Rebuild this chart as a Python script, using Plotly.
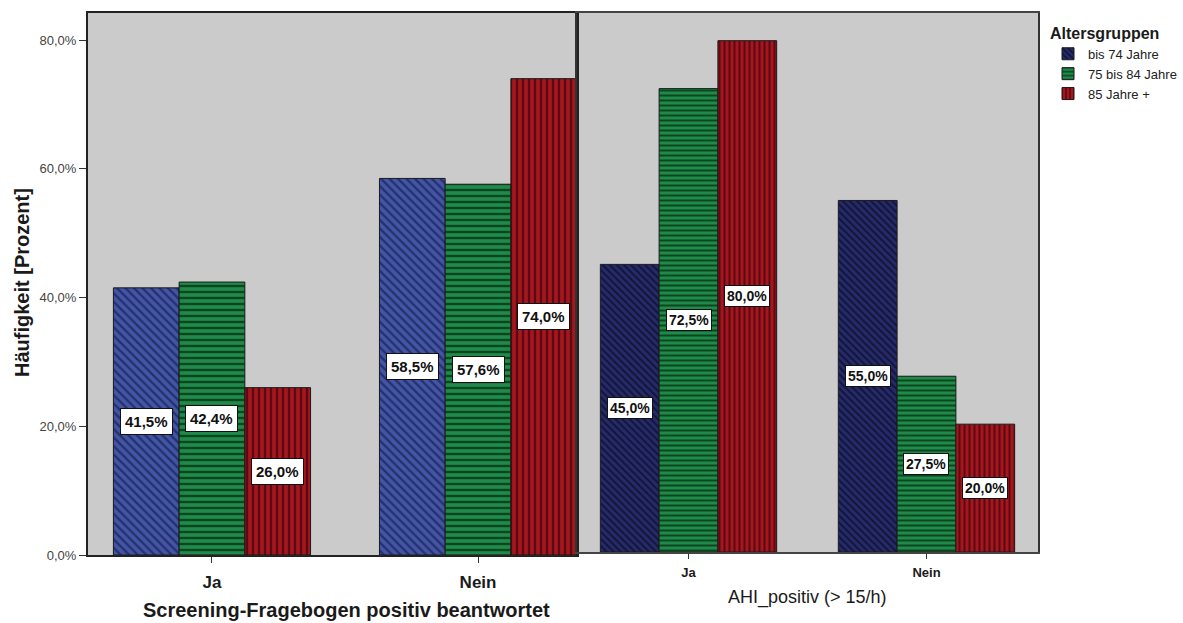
import plotly.graph_objects as go

# Data
age_groups = ["bis 74 Jahre", "75 bis 84 Jahre", "85 Jahre +"]
answers = ["Ja", "Nein"]

# Screening questionnaire answered positively (%), per age group: [Ja, Nein]
screening_pct = {
    "bis 74 Jahre": [41.5, 58.5],
    "75 bis 84 Jahre": [42.4, 57.6],
    "85 Jahre +": [26.0, 74.0],
}
# AHI positive (> 15/h) (%), per age group: [Ja, Nein]
ahi_pct = {
    "bis 74 Jahre": [45.0, 55.0],
    "75 bis 84 Jahre": [72.5, 27.5],
    "85 Jahre +": [80.0, 20.0],
}

y_ticks = [0, 20, 40, 60, 80]
y_tick_labels = ["0,0%", "20,0%", "40,0%", "60,0%", "80,0%"]

W, H = 1183, 623

# Fill styles per age group
shapes_pattern = ["\\", "-", "|"]
left_bg = ["#4356a6", "#1e8c48", "#a6161f"]
left_fg = ["#26306e", "#0d4522", "#5a0a10"]
right_bg = ["#262a68", "#1e8c48", "#a6161f"]
right_fg = ["#11143a", "#0d4522", "#5a0a10"]

FONT = "Liberation Sans, Arial, sans-serif"


def px_x(x):
    return x / W


def px_y(y):
    return 1 - y / H


def pct_label(v):
    return "<b>" + f"{v:.1f}".replace(".", ",") + "%</b>"


fig = go.Figure()

bar_w = 0.247
offsets = [-bar_w, 0.0, bar_w]
positions = list(range(len(answers)))

annotations = []

for i, grp in enumerate(age_groups):
    xs = [p + offsets[i] for p in positions]
    fig.add_trace(go.Bar(
        x=xs, y=screening_pct[grp], width=bar_w, name=grp,
        xaxis="x", yaxis="y", showlegend=False,
        marker=dict(
            color=left_bg[i],
            line=dict(color="#1a1a1a", width=1),
            pattern=dict(shape=shapes_pattern[i], fillmode="replace",
                         bgcolor=left_bg[i], fgcolor=left_fg[i],
                         size=6, solidity=0.4),
        ),
        hoverinfo="skip",
    ))
    for x, v in zip(xs, screening_pct[grp]):
        annotations.append(dict(
            x=x, y=v / 2, xref="x", yref="y",
            xanchor="center", yanchor="middle",
            text=pct_label(v),
            showarrow=False, bgcolor="white", bordercolor="#111",
            borderwidth=1, borderpad=4,
            font=dict(family=FONT, size=15, color="#111"),
        ))

for i, grp in enumerate(age_groups):
    xs = [p + offsets[i] for p in positions]
    fig.add_trace(go.Bar(
        x=xs, y=ahi_pct[grp], width=bar_w, name=grp,
        xaxis="x2", yaxis="y2", showlegend=True,
        marker=dict(
            color=right_bg[i],
            line=dict(color="#1a1a1a", width=1),
            pattern=dict(shape=shapes_pattern[i], fillmode="replace",
                         bgcolor=right_bg[i], fgcolor=right_fg[i],
                         size=5, solidity=0.4),
        ),
        hoverinfo="skip",
    ))
    for x, v in zip(xs, ahi_pct[grp]):
        annotations.append(dict(
            x=x, y=v / 2, xref="x2", yref="y2",
            xanchor="center", yanchor="middle",
            text=pct_label(v),
            showarrow=False, bgcolor="white", bordercolor="#111",
            borderwidth=1, borderpad=2,
            font=dict(family="Liberation Sans Narrow, Arial Narrow, " + FONT,
                      size=14, color="#111"),
        ))

# Axis titles
annotations += [
    dict(x=px_x(22), y=px_y(283), xref="paper", yref="paper",
         xanchor="center", yanchor="middle",
         text="<b>Häufigkeit [Prozent]</b>", textangle=-90, showarrow=False,
         font=dict(family=FONT, size=20, color="#1a1a1a")),
    dict(x=px_x(346), y=px_y(610), xref="paper", yref="paper",
         xanchor="center", yanchor="middle",
         text="<b>Screening-Fragebogen positiv beantwortet</b>", showarrow=False,
         font=dict(family=FONT, size=20, color="#1a1a1a")),
    dict(x=px_x(807), y=px_y(597), xref="paper", yref="paper",
         xanchor="center", yanchor="middle",
         text="AHI_positiv (> 15/h)", showarrow=False,
         font=dict(family=FONT, size=18, color="#1a1a1a")),
]

tick_text = ["<b>" + a + "</b>" for a in answers]

fig.update_layout(
    width=W, height=H,
    autosize=False,
    margin=dict(l=0, r=0, t=0, b=0, pad=0),
    paper_bgcolor="white",
    plot_bgcolor="#cbcbcb",
    barmode="overlay",
    font=dict(family=FONT, color="#222"),
    xaxis=dict(
        domain=[px_x(88), px_x(577)], range=[-0.466, 1.372],
        tickvals=positions, ticktext=tick_text,
        tickfont=dict(size=17, color="#1a1a1a"),
        ticks="outside", ticklen=6, tickcolor="#333",
        ticklabelstandoff=5,
        showline=True, linecolor="#222", linewidth=2, mirror=True,
        showgrid=False, zeroline=False, fixedrange=True, automargin=False,
    ),
    yaxis=dict(
        domain=[px_y(555), px_y(13)], range=[0, 84.2],
        tickvals=y_ticks, ticktext=y_tick_labels,
        tickfont=dict(size=13, color="#444"),
        ticks="outside", ticklen=7, tickcolor="#333",
        showline=True, linecolor="#222", linewidth=2, mirror=True,
        showgrid=False, zeroline=False, fixedrange=True, automargin=False,
    ),
    xaxis2=dict(
        domain=[px_x(577), px_x(1038)], range=[-0.4686, 1.4686],
        anchor="y2",
        tickvals=positions, ticktext=tick_text,
        tickfont=dict(size=13, color="#1a1a1a"),
        ticks="outside", ticklen=5, tickcolor="#333",
        ticklabelstandoff=3,
        showline=True, linecolor="#444", linewidth=1.5, mirror=True,
        showgrid=False, zeroline=False, fixedrange=True, automargin=False,
    ),
    yaxis2=dict(
        domain=[px_y(552), px_y(13)], range=[0, 84.33],
        anchor="x2",
        showticklabels=False, ticks="",
        showline=True, linecolor="#333", linewidth=1.5, mirror=True,
        showgrid=False, zeroline=False, fixedrange=True, automargin=False,
    ),
    legend=dict(
        x=px_x(1048), y=px_y(18), xanchor="left", yanchor="top",
        title=dict(text="<b>Altersgruppen</b>",
                   font=dict(size=16, color="#1a1a1a")),
        font=dict(size=13, color="#222"),
        bgcolor="rgba(0,0,0,0)",
        itemwidth=30, tracegroupgap=0,
    ),
    annotations=annotations,
)

fig.write_html("out.html")
